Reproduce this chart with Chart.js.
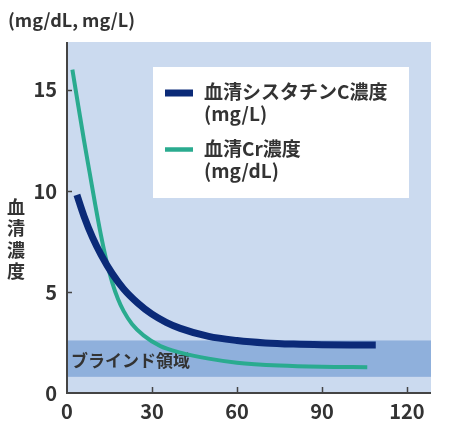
<!DOCTYPE html>
<html>
<head>
<meta charset="utf-8">
<script src="https://cdn.jsdelivr.net/npm/chart.js@4.4.1/dist/chart.umd.min.js"></script>
<style>
  html, body { margin: 0; padding: 0; background: #fff; }
  #wrap { width: 457px; height: 421px; }
</style>
</head>
<body>
<div id="wrap"><canvas id="chart" width="457" height="421"></canvas></div>
<script>
// values (x: time, y: concentration)
const cysT = [3.5, 6, 9, 12, 16, 20, 25, 30, 35, 40, 50, 60, 70, 80, 90, 100, 109];
const cysV = [9.8, 8.75, 7.7, 6.85, 5.9, 5.15, 4.45, 3.9, 3.5, 3.2, 2.8, 2.6, 2.48, 2.42, 2.39, 2.38, 2.38];
const crT = [1.9, 4, 6, 8, 10, 12, 14, 16, 18, 20, 23, 27, 33, 40, 50, 60, 75, 90, 106];
const crV = [16, 14.2, 12.5, 10.9, 9.3, 7.8, 6.5, 5.45, 4.65, 4.05, 3.4, 2.85, 2.32, 2.0, 1.7, 1.5, 1.36, 1.3, 1.28];
const xTicks = [0, 30, 60, 90, 120];
const yTicks = [0, 5, 10, 15];
const blindRange = [0.8, 2.6];
const seriesNames = [["血清シスタチンC濃度", "(mg/L)"], ["血清Cr濃度", "(mg/dL)"]];
const unitLabel = "(mg/dL, mg/L)";
const yTitle = ["血", "清", "濃", "度"];
const blindLabel = "ブラインド領域";

const FONT = '"Noto Sans CJK JP", "Noto Sans", sans-serif';
const TEXT = "#333333";
const NAVY = "#0b2a78";
const TEAL = "#2aab8f";

const toPoints = (xs, ys) => xs.map((x, i) => ({ x: x, y: ys[i] }));

const decorations = {
  id: "decorations",
  beforeDatasetsDraw(chart) {
    const { ctx, chartArea: a, scales: { y } } = chart;
    ctx.save();
    // plot background
    ctx.fillStyle = "#cbdaef";
    ctx.fillRect(a.left, a.top, a.right - a.left, a.bottom - a.top);
    // blind zone
    const yTop = y.getPixelForValue(blindRange[1]);
    const yBot = y.getPixelForValue(blindRange[0]);
    ctx.fillStyle = "#8fb0dc";
    ctx.fillRect(a.left, yTop, a.right - a.left, yBot - yTop);
    ctx.fillStyle = TEXT;
    ctx.font = "bold 17px " + FONT;
    ctx.textBaseline = "middle";
    ctx.textAlign = "left";
    ctx.fillText(blindLabel, a.left + 4, (yTop + yBot) / 2 + 2);
    ctx.restore();
  },
  afterDraw(chart) {
    const { ctx, chartArea: a, scales: { x, y } } = chart;
    ctx.save();
    // axes
    ctx.strokeStyle = "#444";
    ctx.lineWidth = 2;
    ctx.beginPath();
    ctx.moveTo(a.left, a.top);
    ctx.lineTo(a.left, a.bottom);
    ctx.lineTo(a.right, a.bottom);
    ctx.stroke();
    // inner ticks
    ctx.lineWidth = 1.5;
    ctx.beginPath();
    yTicks.slice(1).forEach(v => {
      const py = Math.round(y.getPixelForValue(v)) + 0.5;
      ctx.moveTo(a.left, py);
      ctx.lineTo(a.left + 5, py);
    });
    xTicks.slice(1).forEach(v => {
      const px = Math.round(x.getPixelForValue(v)) + 0.5;
      ctx.moveTo(px, a.bottom);
      ctx.lineTo(px, a.bottom - 6);
    });
    ctx.stroke();

    // unit label
    ctx.fillStyle = TEXT;
    ctx.font = "bold 18px " + FONT;
    ctx.textBaseline = "middle";
    ctx.textAlign = "left";
    ctx.fillText(unitLabel, 8, 20);

    // vertical y title
    ctx.font = "bold 18px " + FONT;
    ctx.textAlign = "center";
    yTitle.forEach((ch, i) => ctx.fillText(ch, 16, 207 + i * 21.5));

    // legend box
    ctx.fillStyle = "#ffffff";
    ctx.fillRect(153, 67, 256, 131);
    const colors = [NAVY, TEAL];
    const widths = [7, 4.5];
    const rows = [93, 149.5];
    ctx.font = "bold 19px " + FONT;
    ctx.textAlign = "left";
    seriesNames.forEach((lines, i) => {
      ctx.strokeStyle = colors[i];
      ctx.lineWidth = widths[i];
      ctx.beginPath();
      ctx.moveTo(165, rows[i]);
      ctx.lineTo(193, rows[i]);
      ctx.stroke();
      ctx.fillStyle = TEXT;
      lines.forEach((t, j) => ctx.fillText(t, 204, rows[i] - 1 + j * 22));
    });
    ctx.restore();
  }
};

new Chart(document.getElementById("chart"), {
  type: "line",
  data: {
    datasets: [
      {
        label: seriesNames[0].join(""),
        data: toPoints(cysT, cysV),
        borderColor: NAVY,
        borderWidth: 7,
        borderCapStyle: "butt",
        cubicInterpolationMode: "monotone",
        pointRadius: 0
      },
      {
        label: seriesNames[1].join(""),
        data: toPoints(crT, crV),
        borderColor: TEAL,
        borderWidth: 4,
        borderCapStyle: "butt",
        cubicInterpolationMode: "monotone",
        pointRadius: 0
      }
    ]
  },
  options: {
    responsive: false,
    animation: false,
    layout: { padding: { left: 0, top: 42, right: 26, bottom: 0 } },
    plugins: { legend: { display: false }, tooltip: { enabled: false } },
    scales: {
      x: {
        type: "linear",
        min: 0,
        max: 128.5,
        afterBuildTicks: s => { s.ticks = xTicks.map(v => ({ value: v })); },
        afterFit: s => { s.height = 28; },
        border: { display: false },
        grid: { display: false, drawTicks: false },
        ticks: { color: TEXT, padding: 6, font: { family: FONT, size: 20, weight: "bold" } }
      },
      y: {
        min: 0,
        max: 17.37,
        afterBuildTicks: s => { s.ticks = yTicks.map(v => ({ value: v })); },
        afterFit: s => { s.width = 67; },
        border: { display: false },
        grid: { display: false, drawTicks: false },
        ticks: { color: TEXT, padding: 10, font: { family: FONT, size: 20, weight: "bold" } }
      }
    }
  },
  plugins: [decorations]
});
</script>
</body>
</html>
